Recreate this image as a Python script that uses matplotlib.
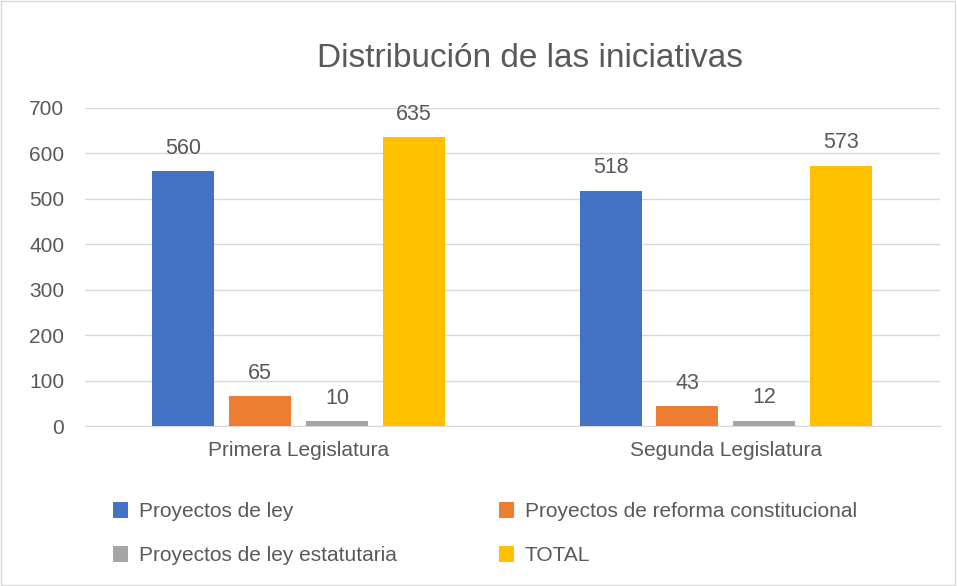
import numpy as np
import matplotlib
matplotlib.use("Agg")
import matplotlib.pyplot as plt
from matplotlib.patches import Rectangle

categories = ["Primera Legislatura", "Segunda Legislatura"]
series_names = ["Proyectos de ley", "Proyectos de reforma constitucional",
                "Proyectos de ley estatutaria", "TOTAL"]
ley = [560, 518]
reforma = [65, 43]
estatutaria = [10, 12]
total = [635, 573]
yticks = [0, 100, 200, 300, 400, 500, 600, 700]

colors = ["#4472C4", "#ED7D31", "#A5A5A5", "#FFC000"]
txt = "#595959"
plt.rcParams['font.family'] = ['Liberation Sans', 'DejaVu Sans']

fig = plt.figure(figsize=(9.57, 5.86), dpi=100)
ax = fig.add_axes([0.0888, 0.273, 0.893, 0.543])

x = np.array([0.5, 1.5])
w = 0.145
step = 0.18
values = [ley, reforma, estatutaria, total]
handles = []
for i, vals in enumerate(values):
    pos = x + (i - 1.5) * step
    b = ax.bar(pos, vals, width=w, color=colors[i], label=series_names[i], zorder=3)
    handles.append(b)
    for p, v in zip(pos, vals):
        ax.annotate(str(v), (p, v), xytext=(0, 9), textcoords="offset points",
                    ha="center", va="bottom", fontsize=15.5, color=txt)

ax.set_xlim(0, 2)
ax.set_ylim(0, 700)
ax.set_yticks(yticks)
ax.set_xticks(x)
ax.set_xticklabels(categories)
ax.tick_params(axis="both", length=0, labelsize=15, colors=txt)
ax.tick_params(axis="x", pad=11)
ax.tick_params(axis="y", pad=15)
ax.grid(axis="y", color="#D9D9D9", linewidth=1, zorder=0)
for s in ["top", "right", "left"]:
    ax.spines[s].set_visible(False)
ax.spines["bottom"].set_color("#D9D9D9")

fig.text(0.554, 0.9, "Distribución de las iniciativas", ha="center", va="center",
         fontsize=24, color=txt)

# row-major legend order as in the reference
order = [0, 2, 1, 3]
leg = fig.legend(handles=[handles[i] for i in order],
                 labels=[series_names[i] for i in order], ncol=2, loc="upper left",
                 bbox_to_anchor=(0.098, 0.175), frameon=False, fontsize=15,
                 handlelength=0.75, handleheight=0.75, columnspacing=4.9,
                 labelspacing=1.2, handletextpad=0.5)
for t in leg.get_texts():
    t.set_color(txt)

fig.patches.append(Rectangle((0.001, 0.001), 0.997, 0.997, transform=fig.transFigure,
                             fill=False, edgecolor="#D9D9D9", linewidth=1))

fig.savefig("out.png", dpi=100, facecolor="white")
